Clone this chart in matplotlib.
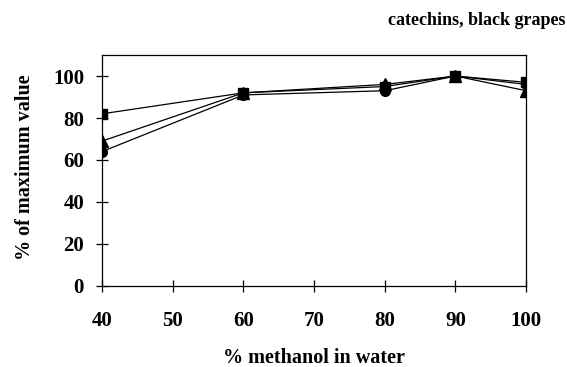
import matplotlib.pyplot as plt

plt.rcParams['font.family'] = ['Liberation Serif', 'DejaVu Serif']
plt.rcParams['font.weight'] = 'bold'

methanol = [40, 60, 80, 90, 100]
squares = [82, 92, 95, 100, 97]
triangles = [69, 92, 96, 100, 93]
circles = [64, 91, 93, 100, 96]

fig = plt.figure(figsize=(5.67, 3.67), dpi=100)
ax = fig.add_axes([0.180, 0.221, 0.748, 0.629])

ax.plot(methanol, circles, color='black', lw=0.9, marker='o', ms=7)
ax.plot(methanol, triangles, color='black', lw=0.9, marker='^', ms=8)
ax.plot(methanol, squares, color='black', lw=0.9, marker='s', ms=7)

ax.set_xlim(40, 100)
ax.set_ylim(0, 110)
ax.set_xticks([40, 50, 60, 70, 80, 90, 100])
ax.set_yticks([0, 20, 40, 60, 80, 100])
ax.tick_params(direction='inout', length=8, width=0.9, labelsize=15)
ax.tick_params(axis='x', pad=14)
ax.tick_params(axis='y', pad=9)
for s in ax.spines.values():
    s.set_linewidth(0.9)

ax.set_xlabel('% methanol in water', fontsize=14.5, fontweight='bold')
ax.xaxis.set_label_coords(0.554, 0.025, transform=fig.transFigure)
ax.xaxis.label.set_va('center')
ax.set_ylabel('% of maximum value', fontsize=14.5, fontweight='bold')
ax.yaxis.set_label_coords(0.044, 0.545, transform=fig.transFigure)
ax.yaxis.label.set_va('center')
fig.text(0.997, 0.943, 'catechins, black grapes', ha='right', va='center',
         fontsize=13, fontweight='bold')

fig.savefig('out.png', dpi=100)
